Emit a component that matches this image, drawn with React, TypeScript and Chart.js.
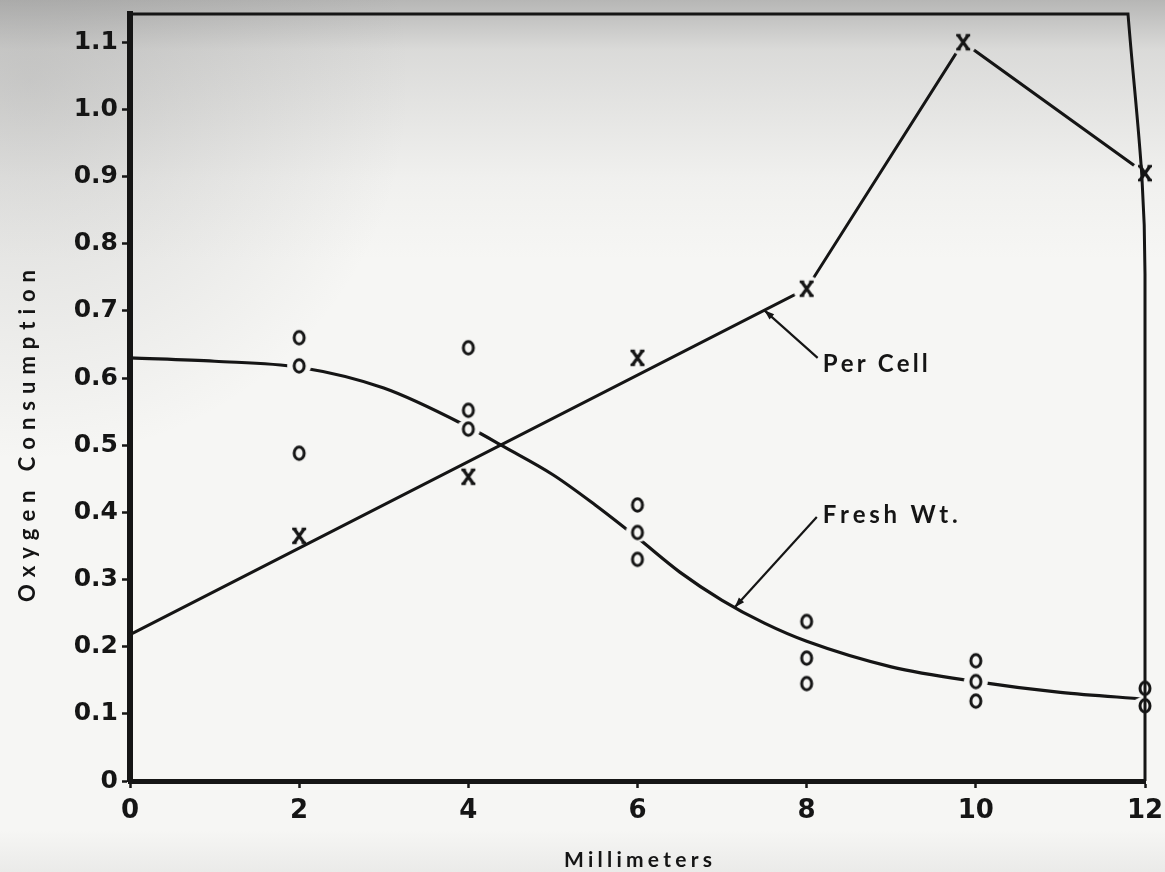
import React, { useEffect, useRef } from 'react';
import { Chart, registerables } from 'chart.js';

Chart.register(...registerables);

const INK = '#151515';

// Axis ticks
const mmTicks = [0, 2, 4, 6, 8, 10, 12];
const mmTickLabels = ['0', '2', '4', '6', '8', '10', '12'];
const o2Ticks = [0, 0.1, 0.2, 0.3, 0.4, 0.5, 0.6, 0.7, 0.8, 0.9, 1.0, 1.1];
const o2TickLabels = ['0', '0.1', '0.2', '0.3', '0.4', '0.5', '0.6', '0.7', '0.8', '0.9', '1.0', '1.1'];
const mmRange = [0, 12];
const o2Range = [0, 1.142];

// Oxygen consumption per cell (x marks)
const perCellMm = [2, 4, 6, 8, 9.85, 12];
const perCellO2 = [0.365, 0.453, 0.63, 0.733, 1.1, 0.905];

// Per cell trend: fitted straight line up to 8 mm, then joined points
const perCellLineMm = [0, 8, 9.85, 12];
const perCellLineO2 = [0.218, 0.733, 1.1, 0.905];

// Oxygen consumption per fresh weight (o marks)
const freshMm = [2, 2, 2, 4, 4, 4, 6, 6, 6, 8, 8, 8, 10, 10, 10, 12, 12];
const freshO2 = [0.66, 0.618, 0.488, 0.645, 0.552, 0.524, 0.411, 0.37, 0.33, 0.2375, 0.183, 0.145, 0.179, 0.148, 0.119, 0.138, 0.112];

// Fresh weight smooth curve
const freshCurveMm = [0, 1, 2, 3, 4, 4.43, 5, 5.5, 6, 6.5, 7, 7.5, 8, 9, 10, 11, 12];
const freshCurveO2 = [0.63, 0.625, 0.616, 0.585, 0.527, 0.497, 0.456, 0.411, 0.362, 0.311, 0.269, 0.235, 0.208, 0.17, 0.148, 0.132, 0.122];

// Callouts: arrow tip on the series at tipMm, leader elbow and label anchor in data units
const callouts = [
  { text: 'Per Cell', xs: perCellLineMm, ys: perCellLineO2, tipMm: 7.5, elbow: [8.13, 0.63], label: [8.19, 0.62], width: 105 },
  { text: 'Fresh Wt.', xs: freshCurveMm, ys: freshCurveO2, tipMm: 7.15, elbow: [8.12, 0.393], label: [8.19, 0.395], width: 135 },
];

const pts = (xs: number[], ys: number[]) => xs.map((x, i) => ({ x, y: ys[i] }));

function polyAt(xs: number[], ys: number[], x: number) {
  for (let i = 0; i < xs.length - 1; i++) {
    if (x >= xs[i] && x <= xs[i + 1]) {
      const t = (x - xs[i]) / (xs[i + 1] - xs[i]);
      return ys[i] + t * (ys[i + 1] - ys[i]);
    }
  }
  return ys[ys.length - 1];
}

function makeSprite(w: number, h: number, paint: (g: CanvasRenderingContext2D) => void) {
  const c = document.createElement('canvas');
  c.width = w;
  c.height = h;
  const g = c.getContext('2d')!;
  paint(g);
  return c;
}

// Text spread out letter by letter to a given width
function drawSpaced(ctx: CanvasRenderingContext2D, text: string, left: number, midY: number, width: number, font: string) {
  ctx.save();
  ctx.font = font;
  ctx.fillStyle = INK;
  ctx.textBaseline = 'middle';
  ctx.textAlign = 'left';
  const chars = Array.from(text);
  const widths = chars.map((c) => ctx.measureText(c).width);
  const base = widths.reduce((a, b) => a + b, 0);
  const gap = chars.length > 1 ? (width - base) / (chars.length - 1) : 0;
  let x = left;
  chars.forEach((c, i) => {
    ctx.fillText(c, x, midY);
    x += widths[i] + gap;
  });
  ctx.restore();
}

function arrow(ctx: CanvasRenderingContext2D, x0: number, y0: number, x1: number, y1: number) {
  ctx.beginPath();
  ctx.moveTo(x0, y0);
  ctx.lineTo(x1, y1);
  ctx.stroke();
  const a = Math.atan2(y1 - y0, x1 - x0);
  const L = 10;
  const W = 3.5;
  ctx.beginPath();
  ctx.moveTo(x1, y1);
  ctx.lineTo(x1 - L * Math.cos(a) + W * Math.sin(a), y1 - L * Math.sin(a) - W * Math.cos(a));
  ctx.lineTo(x1 - L * Math.cos(a) - W * Math.sin(a), y1 - L * Math.sin(a) + W * Math.cos(a));
  ctx.closePath();
  ctx.fill();
}

// Datasets flagged with `erase` cut clear gaps in the curves around the marks
const gapPlugin = {
  id: 'gaps',
  beforeDatasetDraw(chart: any, args: any) {
    if (chart.data.datasets[args.index].erase) {
      chart.ctx.save();
      chart.ctx.globalCompositeOperation = 'destination-out';
    }
  },
  afterDatasetDraw(chart: any, args: any) {
    if (chart.data.datasets[args.index].erase) chart.ctx.restore();
  },
};

const framePlugin = {
  id: 'frame',
  afterDraw(chart: any) {
    const { ctx, chartArea } = chart;
    const { left, top, right, bottom } = chartArea;
    const xs = chart.scales.x;
    const ys = chart.scales.y;
    ctx.save();
    ctx.strokeStyle = INK;
    ctx.fillStyle = INK;

    // top and right edges of the frame
    ctx.lineWidth = 3;
    ctx.beginPath();
    ctx.moveTo(left, top);
    ctx.lineTo(right - 17, top);
    ctx.bezierCurveTo(right - 9, top + 100, right, top + 160, right, top + 260);
    ctx.lineTo(right, bottom);
    ctx.stroke();

    // callouts
    ctx.lineWidth = 2.2;
    callouts.forEach((c) => {
      const tipX = xs.getPixelForValue(c.tipMm);
      const tipY = ys.getPixelForValue(polyAt(c.xs, c.ys, c.tipMm));
      const ex = xs.getPixelForValue(c.elbow[0]);
      const ey = ys.getPixelForValue(c.elbow[1]);
      arrow(ctx, ex, ey, tipX, tipY);
      drawSpaced(ctx, c.text, xs.getPixelForValue(c.label[0]), ys.getPixelForValue(c.label[1]), c.width, 'bold 24px Lato');
    });

    // axis titles
    drawSpaced(ctx, 'Millimeters', 564, 860, 148, 'bold 21px Lato');
    ctx.save();
    ctx.translate(28, 602);
    ctx.rotate(-Math.PI / 2);
    drawSpaced(ctx, 'Oxygen Consumption', 0, 0, 332, 'bold 22px Lato');
    ctx.restore();

    ctx.restore();
  },
};

const paper = [
  'radial-gradient(circle at 30px 80px, rgba(120,120,120,0.24), rgba(120,120,120,0) 380px)',
  'linear-gradient(to bottom, rgba(105,105,105,0.45) 0px, rgba(130,130,130,0.24) 50px, rgba(150,150,150,0.06) 180px, rgba(150,150,150,0) 260px, rgba(150,150,150,0) 830px, rgba(150,150,150,0.12) 872px)',
  '#f6f6f4',
].join(', ');

export default function App() {
  const ref = useRef<HTMLCanvasElement>(null);

  useEffect(() => {
    const canvas = ref.current;
    if (!canvas) return;

    const oMark = makeSprite(18, 20, (g) => {
      g.beginPath();
      g.ellipse(9, 10, 5, 6.2, 0, 0, Math.PI * 2);
      g.lineWidth = 3;
      g.strokeStyle = INK;
      g.stroke();
    });
    const xMark = makeSprite(20, 22, (g) => {
      g.strokeStyle = INK;
      g.lineWidth = 3.2;
      g.lineCap = 'butt';
      g.beginPath();
      g.moveTo(5, 4);
      g.lineTo(15, 18);
      g.moveTo(15, 4);
      g.lineTo(5, 18);
      g.stroke();
      g.lineWidth = 2.4;
      g.beginPath();
      g.moveTo(3, 4); g.lineTo(7.5, 4);
      g.moveTo(12.5, 4); g.lineTo(17, 4);
      g.moveTo(3, 18); g.lineTo(7.5, 18);
      g.moveTo(12.5, 18); g.lineTo(17, 18);
      g.stroke();
    });
    const oHalo = makeSprite(28, 24, (g) => {
      g.beginPath();
      g.ellipse(14, 12, 12, 9.5, 0, 0, Math.PI * 2);
      g.fillStyle = '#000';
      g.fill();
    });
    const xHalo = makeSprite(30, 30, (g) => {
      g.beginPath();
      g.arc(15, 15, 13.5, 0, Math.PI * 2);
      g.fillStyle = '#000';
      g.fill();
    });

    const tickFont = (size: number) => ({ family: 'DejaVu Sans', size, weight: 'bold' as const });

    const chart = new Chart(canvas, {
      type: 'scatter',
      data: {
        datasets: [
          {
            label: 'Fresh Wt.',
            data: pts(freshCurveMm, freshCurveO2),
            showLine: true,
            borderColor: INK,
            borderWidth: 3.2,
            pointRadius: 0,
            cubicInterpolationMode: 'monotone',
            clip: false,
            order: 6,
          },
          {
            label: 'Per Cell',
            data: pts(perCellLineMm, perCellLineO2),
            showLine: true,
            borderColor: INK,
            borderWidth: 3,
            tension: 0,
            pointRadius: 0,
            clip: false,
            order: 5,
          },
          {
            label: 'fresh-gap',
            erase: true,
            data: pts(freshMm, freshO2),
            pointStyle: oHalo,
            pointRadius: 6,
            clip: false,
            order: 4,
          },
          {
            label: 'cell-gap',
            erase: true,
            data: pts(perCellLineMm.slice(1), perCellLineO2.slice(1)),
            pointStyle: xHalo,
            pointRadius: 6,
            clip: false,
            order: 4,
          },
          {
            label: 'Fresh Wt. samples',
            data: pts(freshMm, freshO2),
            pointStyle: oMark,
            pointRadius: 6,
            clip: false,
            order: 1,
          },
          {
            label: 'Per Cell samples',
            data: pts(perCellMm, perCellO2),
            pointStyle: xMark,
            pointRadius: 6,
            clip: false,
            order: 1,
          },
        ],
      } as any,
      options: {
        responsive: false,
        animation: false,
        devicePixelRatio: 1,
        layout: { padding: { top: 14, right: 20, left: 0, bottom: 0 } },
        plugins: { legend: { display: false }, tooltip: { enabled: false } },
        events: [],
        scales: {
          x: {
            type: 'linear',
            min: mmRange[0],
            max: mmRange[1],
            afterBuildTicks: (s: any) => { s.ticks = mmTicks.map((value) => ({ value })); },
            afterFit: (s: any) => { s.height = 91; s.paddingLeft = 0; s.paddingRight = 0; },
            ticks: {
              autoSkip: false,
              maxRotation: 0,
              padding: 8,
              color: INK,
              font: tickFont(26),
              callback: (_v: any, i: number) => mmTickLabels[i],
            },
            grid: { display: true, drawOnChartArea: false, drawTicks: true, tickLength: 7, tickWidth: 2.5, tickColor: INK },
            border: { display: true, color: INK, width: 5 },
          },
          y: {
            type: 'linear',
            min: o2Range[0],
            max: o2Range[1],
            afterBuildTicks: (s: any) => { s.ticks = o2Ticks.map((value) => ({ value })); },
            afterFit: (s: any) => { s.width = 130; s.paddingTop = 0; s.paddingBottom = 0; },
            ticks: {
              autoSkip: false,
              padding: 4,
              color: INK,
              font: tickFont(25),
              callback: (_v: any, i: number) => o2TickLabels[i],
            },
            grid: { display: true, drawOnChartArea: false, drawTicks: true, tickLength: 8, tickWidth: 2.5, tickColor: INK },
            border: { display: true, color: INK, width: 6 },
          },
        },
      } as any,
      plugins: [gapPlugin, framePlugin],
    });

    return () => chart.destroy();
  }, []);

  return (
    <div style={{ position: 'fixed', left: 0, top: 0, width: 1165, height: 872, background: paper }}>
      <canvas ref={ref} width={1165} height={872} style={{ display: 'block', width: 1165, height: 872 }} />
    </div>
  );
}
